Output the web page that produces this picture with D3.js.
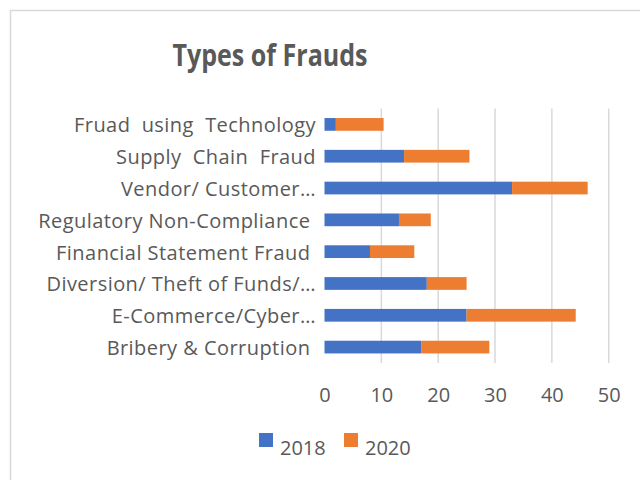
<!DOCTYPE html>
<html lang="en">
<head>
<meta charset="UTF-8">
<title>Types of Frauds</title>
<script src="https://d3js.org/d3.v7.min.js"></script>
<style>
  body { margin: 0; background: #fff; }
  text { font-family: "Open Sans", sans-serif; fill: #595959; }
  .cat { white-space: pre; letter-spacing: 0.45px; }
</style>
</head>
<body>
<div id="chart"></div>
<script>
// categories, top to bottom as shown
var categories = [
  "Fruad  using  Technology",
  "Supply  Chain  Fraud",
  "Vendor/ Customer\u2026",
  "Regulatory Non-Compliance ",
  "Financial Statement Fraud ",
  "Diversion/ Theft of Funds/\u2026",
  "E-Commerce/Cyber\u2026",
  "Bribery & Corruption "
];
var values2018 = [2, 14, 33, 13.1, 8, 18, 25, 17];
var values2020 = [8.4, 11.5, 13.3, 5.6, 7.8, 7, 19.2, 12];
var seriesNames = ["2018", "2020"];
var seriesColors = ["#4472C4", "#ED7D31"];
var xTicks = [0, 10, 20, 30, 40, 50];

var W = 640, H = 480;
var svg = d3.select("#chart").append("svg")
    .attr("width", W)
    .attr("height", H);

// chart frame
svg.append("rect")
    .attr("x", 10.5).attr("y", 10.5)
    .attr("width", W).attr("height", H)
    .attr("fill", "#fff")
    .attr("stroke", "#D9D9D9")
    .attr("stroke-width", 1.5);

// title
svg.append("text")
    .attr("x", 270).attr("y", 66)
    .attr("text-anchor", "middle")
    .attr("textLength", 195)
    .attr("lengthAdjust", "spacingAndGlyphs")
    .style("font-size", "30px")
    .style("font-weight", "bold")
    .text("Types of Frauds");

var x = d3.scaleLinear().domain([0, 50]).range([324.5, 608.7]);
var y = d3.scaleBand().domain(categories).range([108.5, 363])
    .paddingInner(0.6).paddingOuter(0.3);

// gridlines
svg.append("g").selectAll("line")
  .data(xTicks.slice(1))
  .enter().append("line")
    .attr("x1", function(d) { return x(d); })
    .attr("x2", function(d) { return x(d); })
    .attr("y1", 108.5).attr("y2", 363)
    .attr("stroke", "#D9D9D9")
    .attr("stroke-width", 1.5);

// stacked bars
var rows = categories.map(function(c, i) {
  return { cat: c, "2018": values2018[i], "2020": values2020[i] };
});
var stack = d3.stack().keys(seriesNames)(rows);

svg.append("g").selectAll("g")
  .data(stack)
  .enter().append("g")
    .attr("fill", function(d, i) { return seriesColors[i]; })
  .selectAll("rect")
  .data(function(d) { return d; })
  .enter().append("rect")
    .attr("x", function(d) { return x(d[0]); })
    .attr("width", function(d) { return x(d[1]) - x(d[0]); })
    .attr("y", function(d) { return y(d.data.cat); })
    .attr("height", y.bandwidth());

// category labels
svg.append("g").selectAll("text")
  .data(categories)
  .enter().append("text")
    .attr("class", "cat")
    .attr("x", 316)
    .attr("y", function(d) { return y(d) + y.bandwidth() / 2; })
    .attr("dy", "0.4em")
    .attr("text-anchor", "end")
    .style("font-size", "20px")
    .text(function(d) { return d; });

// x axis tick labels
var xAxis = svg.append("g")
    .attr("transform", "translate(0,402)")
    .call(d3.axisBottom(x).tickValues(xTicks).tickSize(0).tickPadding(0));
xAxis.select(".domain").remove();
xAxis.selectAll("text")
    .attr("y", 0)
    .attr("dy", "0")
    .style("font-size", "20px")
    .style("font-family", "\"Open Sans\", sans-serif")
    .attr("fill", "#595959");

// legend
var legend = svg.append("g").selectAll("g")
  .data(seriesNames)
  .enter().append("g")
    .attr("transform", function(d, i) { return "translate(" + (259 + i * 85) + ",433)"; });
legend.append("rect")
    .attr("width", 14).attr("height", 14)
    .attr("fill", function(d, i) { return seriesColors[i]; });
legend.append("text")
    .attr("x", 21).attr("y", 22)
    .style("font-size", "20px")
    .text(function(d) { return d; });
</script>
</body>
</html>
